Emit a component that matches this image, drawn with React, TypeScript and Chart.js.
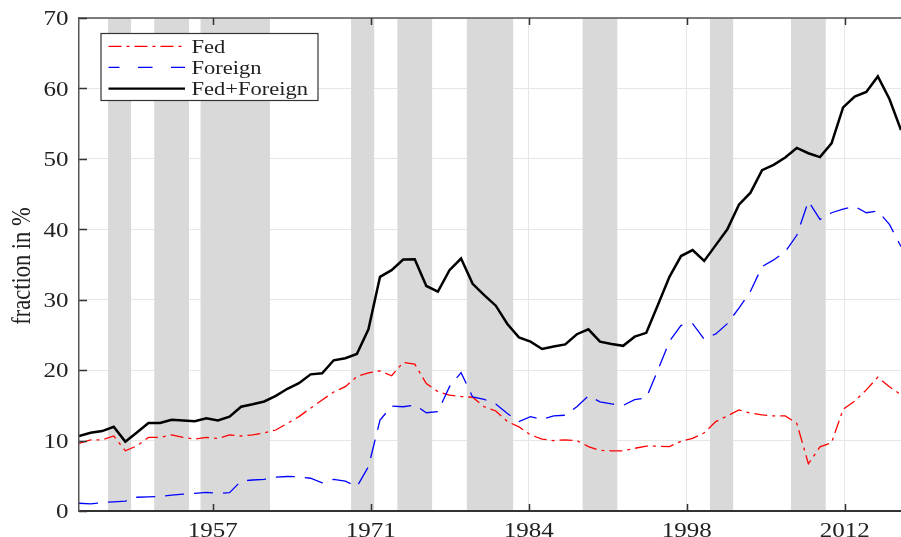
import React, { useEffect, useRef } from "react";
import { Chart, registerables } from "chart.js";

Chart.register(...registerables);

const years = [
  1946, 1947, 1948, 1949, 1950, 1951, 1952, 1953, 1954, 1955, 1956, 1957,
  1958, 1959, 1960, 1961, 1962, 1963, 1964, 1965, 1966, 1967, 1968, 1969,
  1970, 1971, 1972, 1973, 1974, 1975, 1976, 1977, 1978, 1979, 1980, 1981,
  1982, 1983, 1984, 1985, 1986, 1987, 1988, 1989, 1990, 1991, 1992, 1993,
  1994, 1995, 1996, 1997, 1998, 1999, 2000, 2001, 2002, 2003, 2004, 2005,
  2006, 2007, 2008, 2009, 2010, 2011, 2012, 2013, 2014, 2015, 2016, 2017,
];

const fed = [
  9.6, 10.1, 10.1, 10.65, 8.55, 9.25, 10.45, 10.45, 10.8, 10.45, 10.2, 10.45,
  10.3, 10.8, 10.65, 10.8, 11.1, 11.5, 12.45, 13.4, 14.6, 15.75, 16.9, 17.65,
  19.1, 19.6, 19.9, 19.2, 21.1, 20.85, 18.1, 16.95, 16.45, 16.25, 16.15, 14.8,
  14.2, 12.7, 11.95, 10.8, 10.2, 10.0, 10.1, 10.0, 9.15, 8.6, 8.55, 8.55,
  8.9, 9.2, 9.2, 9.15, 9.9, 10.3, 11.1, 12.7, 13.5, 14.35, 13.9, 13.65,
  13.5, 13.5, 12.45, 6.7, 9.1, 9.7, 14.45, 15.6, 17.2, 19.0, 17.65, 16.5,
];

const foreign = [
  1.1, 1.0, 1.2, 1.3, 1.4, 1.95, 2.0, 2.05, 2.25, 2.4, 2.5, 2.65,
  2.5, 2.6, 4.25, 4.4, 4.5, 4.8, 4.9, 4.85, 4.65, 4.0, 4.5, 4.25,
  3.45, 6.3, 12.9, 14.9, 14.8, 15.05, 13.95, 14.1, 17.65, 19.65, 16.2, 15.85,
  15.2, 13.85, 12.7, 13.4, 13.0, 13.5, 13.6, 14.8, 16.35, 15.5, 15.2, 15.0,
  15.8, 16.05, 20.0, 24.1, 26.35, 26.6, 24.4, 25.15, 26.6, 28.8, 31.2, 34.7,
  35.65, 36.8, 39.15, 44.0, 41.4, 42.35, 42.85, 43.25, 42.35, 42.6, 40.7, 37.55,
];

const fedForeign = [
  10.65, 11.1, 11.35, 11.95, 9.85, 11.15, 12.5, 12.5, 12.95, 12.85, 12.75, 13.15,
  12.85, 13.4, 14.8, 15.15, 15.55, 16.35, 17.35, 18.15, 19.4, 19.55, 21.4, 21.7,
  22.3, 25.8, 33.25, 34.2, 35.7, 35.75, 31.95, 31.15, 34.2, 35.85, 32.25, 30.65,
  29.15, 26.55, 24.65, 24.05, 23.0, 23.35, 23.65, 25.1, 25.8, 24.05, 23.7, 23.45,
  24.75, 25.3, 29.25, 33.25, 36.2, 37.05, 35.5, 37.75, 40.0, 43.5, 45.2, 48.4,
  49.15, 50.2, 51.55, 50.8, 50.25, 52.2, 57.3, 58.85, 59.5, 61.7, 58.5, 54.1,
];

const xTickValues = [1957.55, 1971.2, 1984.85, 1998.5, 2012.15];
const xTickLabels = ["1957", "1971", "1984", "1998", "2012"];
const yTickValues = [0, 10, 20, 30, 40, 50, 60, 70];

const recessionStart = [1948.5, 1952.5, 1956.5, 1969.5, 1973.5, 1979.5, 1989.5, 2000.5, 2007.5];
const recessionEnd = [1950.5, 1955.5, 1962.5, 1971.5, 1976.5, 1983.5, 1992.5, 2002.5, 2010.5];

const seriesLabels = ["Fed", "Foreign", "Fed+Foreign"];
const yTitle = "fraction in %";

const FONT = '"Liberation Serif", "Times New Roman", serif';
const TEXT_COLOR = "#222222";

function drawText(
  ctx: CanvasRenderingContext2D,
  text: string,
  x: number,
  y: number,
  align: CanvasTextAlign,
  size: number,
  sx: number
) {
  ctx.save();
  ctx.translate(x, y);
  ctx.scale(sx, 1);
  ctx.font = `${size}px ${FONT}`;
  ctx.fillStyle = TEXT_COLOR;
  ctx.textAlign = align;
  ctx.textBaseline = "alphabetic";
  ctx.fillText(text, 0, 0);
  ctx.restore();
}

const decorPlugin = {
  id: "decor",
  beforeDatasetsDraw(chart: any) {
    const { ctx, chartArea, scales } = chart;
    const xs = scales.x;
    ctx.save();
    ctx.fillStyle = "#d9d9d9";
    for (let i = 0; i < recessionStart.length; i++) {
      const a = xs.getPixelForValue(recessionStart[i]);
      const b = xs.getPixelForValue(recessionEnd[i]);
      ctx.fillRect(a, chartArea.top, b - a, chartArea.bottom - chartArea.top);
    }
    ctx.restore();
  },
  afterDatasetsDraw(chart: any) {
    const { ctx, chartArea, scales } = chart;
    const xs = scales.x;
    const ys = scales.y;
    ctx.save();
    ctx.strokeStyle = "#555555";
    ctx.lineWidth = 1.5;
    ctx.beginPath();
    ctx.moveTo(chartArea.left, chartArea.top);
    ctx.lineTo(chartArea.right, chartArea.top);
    ctx.stroke();
    ctx.strokeStyle = "#333333";
    ctx.lineWidth = 1.5;
    ctx.beginPath();
    for (const v of xTickValues) {
      const px = Math.round(xs.getPixelForValue(v)) + 0.5;
      ctx.moveTo(px, chartArea.bottom);
      ctx.lineTo(px, chartArea.bottom - 7);
      ctx.moveTo(px, chartArea.top);
      ctx.lineTo(px, chartArea.top + 7);
    }
    for (const v of yTickValues) {
      const py = Math.round(ys.getPixelForValue(v)) + 0.5;
      ctx.moveTo(chartArea.left, py);
      ctx.lineTo(chartArea.left + 8, py);
    }
    ctx.stroke();
    ctx.restore();
  },
  afterDraw(chart: any) {
    const { ctx, scales } = chart;
    const xs = scales.x;
    const ys = scales.y;
    xTickValues.forEach((v, i) => {
      drawText(ctx, xTickLabels[i], xs.getPixelForValue(v), 536.5, "center", 20, 1.25);
    });
    yTickValues.forEach((v) => {
      drawText(ctx, String(v), 68.5, ys.getPixelForValue(v) + 7.3, "right", 20, 1.25);
    });
    ctx.save();
    ctx.translate(30, 266);
    ctx.rotate(-Math.PI / 2);
    ctx.scale(1, 1.24);
    ctx.font = `22.5px ${FONT}`;
    ctx.fillStyle = TEXT_COLOR;
    ctx.textAlign = "center";
    ctx.textBaseline = "alphabetic";
    ctx.fillText(yTitle, 0, 0);
    ctx.restore();
    ctx.save();
    ctx.fillStyle = "#ffffff";
    ctx.fillRect(101, 33.5, 217, 67);
    ctx.strokeStyle = "#333333";
    ctx.lineWidth = 1.2;
    ctx.strokeRect(101, 33.5, 217, 67);
    const rowsY = [46.3, 67.3, 88.7];
    const colors = ["#ff0000", "#0000ff", "#000000"];
    const dashes = [[13, 5, 3, 5], [14.5, 18.5], []];
    const offsets = [0, 3.5, 0];
    const widths = [1.3, 1.3, 2.3];
    for (let i = 0; i < 3; i++) {
      ctx.save();
      ctx.strokeStyle = colors[i];
      ctx.lineWidth = widths[i];
      ctx.setLineDash(dashes[i]);
      ctx.lineDashOffset = offsets[i];
      ctx.beginPath();
      ctx.moveTo(108.5, rowsY[i]);
      ctx.lineTo(185, rowsY[i]);
      ctx.stroke();
      ctx.restore();
      drawText(ctx, seriesLabels[i], 191.5, rowsY[i] + 6.5, "left", 18, 1.25);
    }
    ctx.restore();
  },
};

export default function App() {
  const canvasRef = useRef<HTMLCanvasElement | null>(null);

  useEffect(() => {
    if (!canvasRef.current) return;
    const toXY = (vals: number[]) => vals.map((v, i) => ({ x: years[i], y: v }));
    const chart = new Chart(canvasRef.current, {
      type: "line",
      data: {
        datasets: [
          {
            label: seriesLabels[0],
            data: toXY(fed),
            borderColor: "#ff0000",
            borderWidth: 1.3,
            borderDash: [13, 5, 3, 5],
            pointRadius: 0,
            tension: 0,
            fill: false,
            order: 2,
          },
          {
            label: seriesLabels[1],
            data: toXY(foreign),
            borderColor: "#0000ff",
            borderWidth: 1.3,
            borderDash: [19, 10],
            pointRadius: 0,
            tension: 0,
            fill: false,
            order: 1,
          },
          {
            label: seriesLabels[2],
            data: toXY(fedForeign),
            borderColor: "#000000",
            borderWidth: 2.5,
            pointRadius: 0,
            tension: 0,
            fill: false,
            order: 0,
          },
        ],
      },
      options: {
        animation: false,
        responsive: false,
        devicePixelRatio: 1,
        layout: { padding: { top: 18, right: 0, left: 0, bottom: 0 } },
        plugins: {
          legend: { display: false },
          tooltip: { enabled: false },
        },
        scales: {
          x: {
            type: "linear",
            min: years[0],
            max: years[years.length - 1],
            afterBuildTicks: (scale: any) => {
              scale.ticks = xTickValues.map((v) => ({ value: v }));
            },
            afterFit: (scale: any) => {
              scale.height = 26;
            },
            ticks: { display: false },
            grid: { color: "#e6e6e6", lineWidth: 1, drawTicks: false },
            border: { display: true, color: "#333333", width: 2, z: 1 },
          },
          y: {
            type: "linear",
            min: 0,
            max: 70,
            afterBuildTicks: (scale: any) => {
              scale.ticks = yTickValues.map((v) => ({ value: v }));
            },
            afterFit: (scale: any) => {
              scale.width = 79;
            },
            ticks: { display: false },
            grid: { color: "#e6e6e6", lineWidth: 1, drawTicks: false },
            border: { display: true, color: "#555555", width: 1.5, z: 1 },
          },
        },
      },
      plugins: [decorPlugin],
    });
    return () => chart.destroy();
  }, []);

  return (
    <div style={{ position: "absolute", left: 0, top: 0, width: 901, height: 537 }}>
      <canvas ref={canvasRef} width={901} height={537} style={{ display: "block" }} />
    </div>
  );
}
